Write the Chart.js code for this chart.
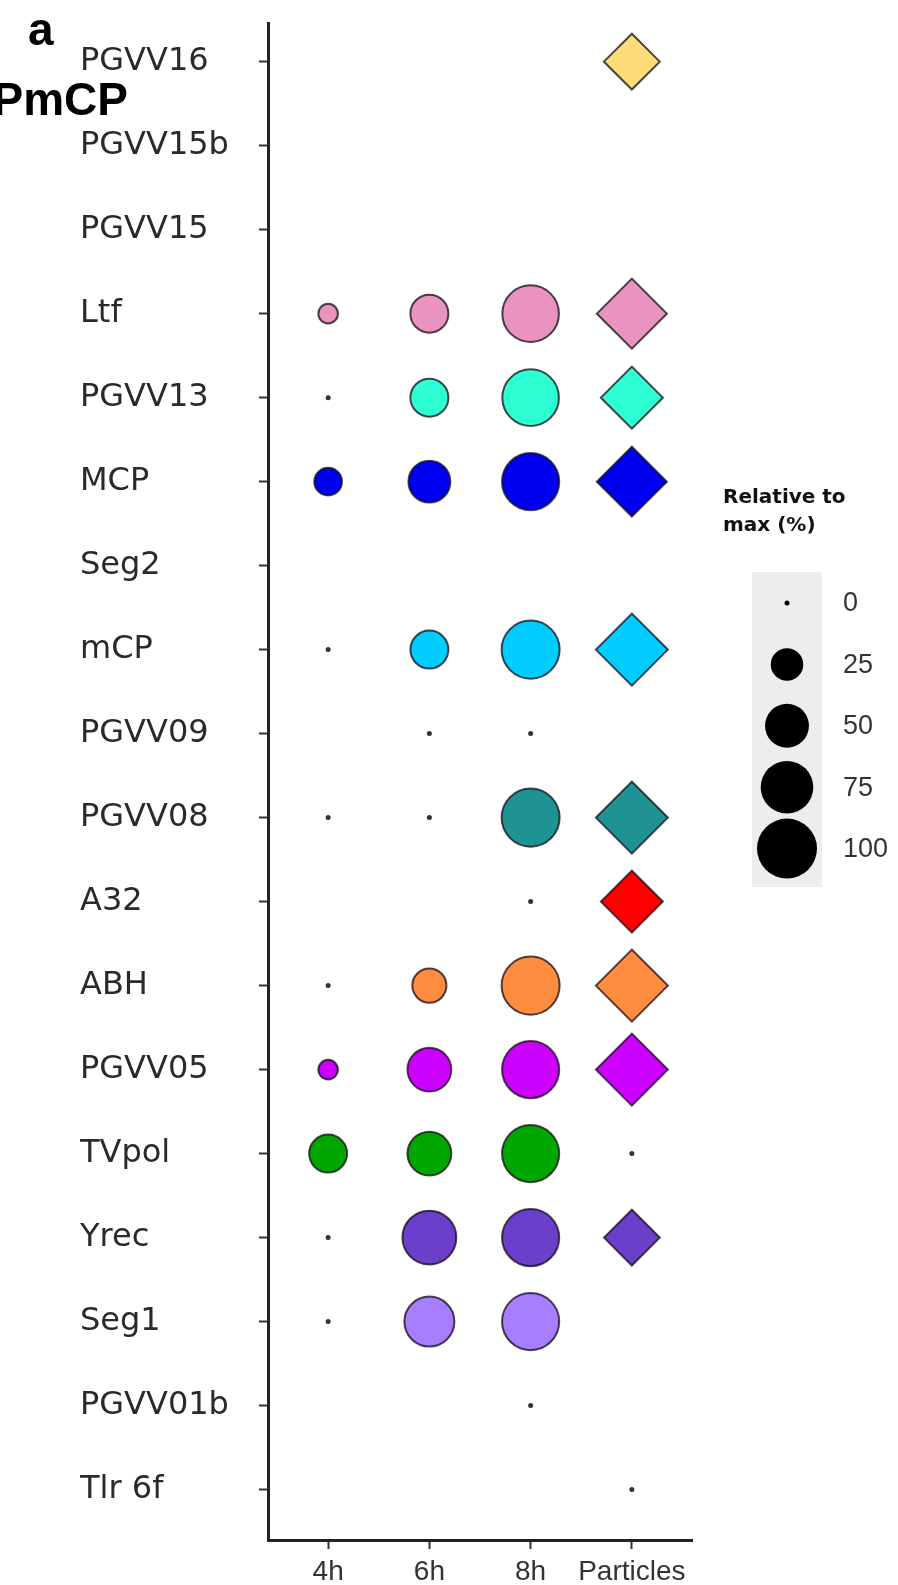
<!DOCTYPE html>
<html>
<head>
<meta charset="utf-8">
<script src="https://cdn.jsdelivr.net/npm/chart.js@4/dist/chart.umd.min.js"></script>
<style>
  html, body { margin: 0; padding: 0; background: #fff; }
  #wrap { width: 898px; height: 1585px; }
</style>
</head>
<body>
<div id="wrap"><canvas id="chart" width="898" height="1585"></canvas></div>
<script>
// Genes, top to bottom
const genes = ['PGVV16', 'PGVV15b', 'PGVV15', 'Ltf', 'PGVV13', 'MCP', 'Seg2', 'mCP', 'PGVV09',
    'PGVV08', 'A32', 'ABH', 'PGVV05', 'TVpol', 'Yrec', 'Seg1', 'PGVV01b', 'Tlr 6f'];
const geneColors = ['#FDDD7B', '#999999', '#999999', '#E993BE', '#2EFFD2', '#0000F0', '#999999', '#00CCFF', '#999999',
    '#1F9393', '#FF0000', '#FF8D3F', '#CC00FF', '#00A600', '#6A3FC9', '#A77EFF', '#999999', '#999999'];
const columns = ['4h', '6h', '8h', 'Particles'];

// Relative to max (%), null = not detected
const h4 = [null, null, null, 7, 0, 17, null, 0, null, 0, null, 0, 7, 36, 0, 0, null, null];
const h6 = [null, null, null, 36, 36, 45, null, 36, 0, 0, null, 28, 50, 50, 79, 67, null, null];
const h8 = [null, null, null, 88, 88, 90, null, 93, 0, 93, 0, 93, 90, 90, 90, 90, 0, null];
const particles = [57, null, null, 94, 72, 94, null, 100, null, 100, 72, 100, 100, 0, 57, null, null, 0];

const legendValues = [0, 25, 50, 75, 100];

// area-style size scale, like ggplot scale_size
const sizeOf = (v) => 2.5 + 27.5 * Math.sqrt(v / 100);

const toPoints = (values, col) => values
    .map((v, i) => (v === null ? null : { x: col, y: i, v }))
    .filter(p => p !== null);

const fillOf = (ctx) => {
    const p = ctx.raw;
    if (!p) return '#333';
    return p.v === 0 ? '#333' : geneColors[p.y];
};

const makeDataset = (values, col, shape) => ({
    label: columns[col],
    data: toPoints(values, col),
    pointStyle: (ctx) => (ctx.raw && ctx.raw.v === 0 ? 'circle' : shape),
    clip: false,
    backgroundColor: fillOf,
    borderColor: (ctx) => (ctx.raw && ctx.raw.v === 0 ? '#333' : 'rgba(20,10,20,0.75)'),
    borderWidth: (ctx) => (ctx.raw && ctx.raw.v === 0 ? 0 : 2),
    pointRadius: (ctx) => {
        const p = ctx.raw;
        if (!p) return 0;
        const r = sizeOf(p.v);
        return shape === 'rectRot' && p.v > 0 ? r * 1.2 : r;
    }
});

// Extra texts and the size legend
const overlay = {
    id: 'overlay',
    afterDraw(chart) {
        const ctx = chart.ctx;
        ctx.save();
        ctx.fillStyle = '#000';
        ctx.font = 'bold 46px "Liberation Sans", Arial, sans-serif';
        ctx.textBaseline = 'alphabetic';
        ctx.textAlign = 'left';
        ctx.fillText('a', 28, 45);
        ctx.textAlign = 'right';
        ctx.fillText('PmCP', 128, 115);

        // legend title
        ctx.textAlign = 'left';
        ctx.font = 'bold 20px "DejaVu Sans", sans-serif';
        ctx.fillStyle = '#111';
        ctx.fillText('Relative to', 723, 503);
        ctx.fillText('max (%)', 723, 531);

        // legend keys
        ctx.fillStyle = '#EDEDED';
        ctx.fillRect(752, 572, 70, 315);
        legendValues.forEach((v, i) => {
            const cy = 603 + i * 61.4;
            ctx.beginPath();
            ctx.fillStyle = '#000';
            ctx.arc(787, cy, sizeOf(v), 0, Math.PI * 2);
            ctx.fill();
            ctx.fillStyle = '#333';
            ctx.font = '27px "Liberation Sans", Arial, sans-serif';
            ctx.textBaseline = 'middle';
            ctx.fillText(String(v), 843, cy + 1);
        });
        ctx.restore();
    }
};

// keep the chart area where the axes really are
const noEdgePadding = (scale) => {
    scale.paddingTop = 0;
    scale.paddingBottom = 0;
    scale.paddingLeft = 0;
    scale.paddingRight = 0;
};

new Chart(document.getElementById('chart'), {
    type: 'scatter',
    data: {
        datasets: [
            makeDataset(h4, 0, 'circle'),
            makeDataset(h6, 1, 'circle'),
            makeDataset(h8, 2, 'circle'),
            makeDataset(particles, 3, 'rectRot')
        ]
    },
    options: {
        responsive: false,
        animation: false,
        layout: { autoPadding: false, padding: { left: 80, right: 206, top: 23, bottom: 0 } },
        plugins: {
            legend: { display: false },
            tooltip: { enabled: false }
        },
        scales: {
            x: {
                type: 'linear',
                min: -0.594,
                max: 3.594,
                afterBuildTicks: (scale) => { scale.ticks = columns.map((_, i) => ({ value: i })); },
                afterFit: (scale) => { scale.height = 45; noEdgePadding(scale); },
                ticks: {
                    callback: (v) => columns[v],
                    color: '#333',
                    padding: 6,
                    maxRotation: 0,
                    font: { family: '"Liberation Sans", Arial, sans-serif', size: 28 }
                },
                grid: { drawOnChartArea: false, tickLength: 9, tickColor: '#333', tickWidth: 2 },
                border: { display: true, color: '#222', width: 3 }
            },
            y: {
                type: 'linear',
                reverse: true,
                min: -0.46,
                max: 17.6,
                afterBuildTicks: (scale) => { scale.ticks = genes.map((_, i) => ({ value: i })); },
                afterFit: (scale) => { scale.width = 188; noEdgePadding(scale); },
                ticks: {
                    callback: (v) => genes[v],
                    crossAlign: 'far',
                    color: '#2a2a2a',
                    font: { family: '"DejaVu Sans", sans-serif', size: 32 }
                },
                grid: { drawOnChartArea: false, tickLength: 9, tickColor: '#333', tickWidth: 2 },
                border: { display: true, color: '#222', width: 3 }
            }
        }
    },
    plugins: [overlay]
});
</script>
</body>
</html>
